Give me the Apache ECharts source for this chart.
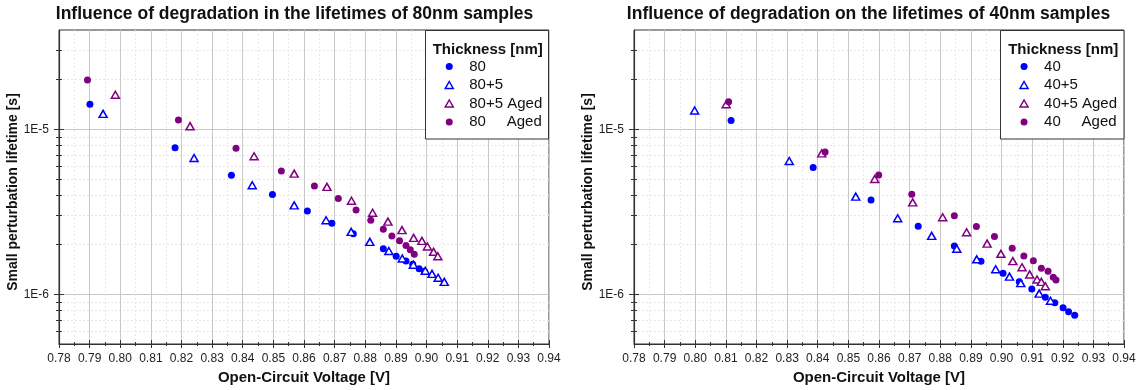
<!DOCTYPE html>
<html>
<head>
<meta charset="utf-8">
<script src="https://cdn.jsdelivr.net/npm/echarts@6/dist/echarts.min.js"></script>
<style>html,body{margin:0;padding:0;background:#fff}#c{width:1141px;height:390px}</style>
</head>
<body>
<div id="c"></div>
<script>
// ---- data (Voc [V], lifetime [s]) ----
const v80 = [0.7901,0.8179,0.8363,0.8497,0.8611,0.8691,0.8761,0.8859,0.8901,0.8933,0.8955,0.8976,0.8993];
const t80 = [1.42e-5,7.74e-6,5.27e-6,4.03e-6,3.20e-6,2.70e-6,2.33e-6,1.89e-6,1.70e-6,1.59e-6,1.52e-6,1.43e-6,1.38e-6];
const v80p5 = [0.7944,0.8241,0.8431,0.8568,0.8672,0.8754,0.8815,0.8877,0.8921,0.8957,0.8996,0.9018,0.9038,0.9058];
const t80p5 = [1.24e-5,6.70e-6,4.58e-6,3.46e-6,2.81e-6,2.39e-6,2.08e-6,1.83e-6,1.65e-6,1.51e-6,1.39e-6,1.33e-6,1.26e-6,1.19e-6];
const v80p5Aged = [0.7984,0.8228,0.8437,0.8568,0.8675,0.8755,0.8824,0.8874,0.8920,0.8958,0.8985,0.9003,0.9023,0.9037];
const t80p5Aged = [1.62e-5,1.045e-5,6.87e-6,5.39e-6,4.48e-6,3.69e-6,3.12e-6,2.76e-6,2.45e-6,2.20e-6,2.11e-6,1.95e-6,1.81e-6,1.70e-6];
const v80Aged = [0.7893,0.8190,0.8378,0.8526,0.8634,0.8712,0.8770,0.8818,0.8859,0.8887,0.8912,0.8933,0.8947,0.8960];
const t80Aged = [1.99e-5,1.14e-5,7.69e-6,5.60e-6,4.54e-6,3.81e-6,3.24e-6,2.81e-6,2.48e-6,2.26e-6,2.11e-6,1.98e-6,1.86e-6,1.75e-6];

const v40 = [0.8117,0.8385,0.8574,0.8728,0.8846,0.8933,0.9005,0.9058,0.9099,0.9143,0.9174,0.9201,0.9219,0.9239];
const t40 = [1.13e-5,5.88e-6,3.73e-6,2.59e-6,1.96e-6,1.585e-6,1.34e-6,1.19e-6,1.076e-6,9.6e-7,8.9e-7,8.3e-7,7.85e-7,7.46e-7];
const v40p5 = [0.7998,0.8307,0.8524,0.8661,0.8772,0.8854,0.8919,0.8981,0.9026,0.9063,0.9123,0.9160];
const t40p5 = [1.30e-5,6.43e-6,3.91e-6,2.89e-6,2.26e-6,1.89e-6,1.63e-6,1.42e-6,1.28e-6,1.17e-6,1.01e-6,9.15e-7];
const v40p5Aged = [0.8101,0.8413,0.8586,0.8710,0.8808,0.8886,0.8953,0.8998,0.9037,0.9067,0.9092,0.9116,0.9130,0.9143];
const t40p5Aged = [1.42e-5,7.15e-6,5.00e-6,3.61e-6,2.93e-6,2.38e-6,2.03e-6,1.76e-6,1.59e-6,1.46e-6,1.32e-6,1.23e-6,1.19e-6,1.12e-6];
const v40Aged = [0.8109,0.8424,0.8599,0.8707,0.8846,0.8918,0.8977,0.9035,0.9073,0.9104,0.9130,0.9152,0.9169,0.9178];
const t40Aged = [1.47e-5,7.29e-6,5.28e-6,4.04e-6,2.99e-6,2.58e-6,2.24e-6,1.90e-6,1.71e-6,1.60e-6,1.44e-6,1.38e-6,1.27e-6,1.22e-6];

// ---- axes / labels ----
const xMin = 0.78, xMax = 0.94, xStep = 0.01;
const yMin = 5e-7, yMax = 4e-5;
const yMajor = [1e-6, 1e-5];
const yMinor = [6e-7,7e-7,8e-7,9e-7,2e-6,3e-6,4e-6,5e-6,6e-6,7e-6,8e-6,9e-6,2e-5,3e-5];
const titles = ['Influence of degradation in the lifetimes of 80nm samples',
                'Influence of degradation on the lifetimes of 40nm samples'];
const legendTitle = 'Thickness [nm]';
const xName = 'Open-Circuit Voltage [V]';
const yName = 'Small perturbation lifetime [s]';
const names80 = ['80', '80+5', '80+5 Aged', '80     Aged'];
const names40 = ['40', '40+5', '40+5 Aged', '40     Aged'];

const FONT = '"Liberation Sans", Arial, Helvetica, sans-serif';
const BLUE = '#0000ff', PURPLE = '#800080', AXC = '#333333';
const grids = [
  {left: 59, top: 30, width: 490, height: 314},
  {left: 634, top: 30, width: 490, height: 314}
];

const zip = (a, b) => a.map((v, i) => [v, b[i]]);
const fmtY = v => {
  const e = Math.round(Math.log10(v));
  return Math.abs(v - Math.pow(10, e)) / v < 1e-6 ? '1E' + e : '';
};

const xAxes = [], yAxes = [];
grids.forEach((g, gi) => {
  xAxes.push({
    type: 'value', gridIndex: gi, min: xMin, max: xMax, interval: xStep, position: 'bottom', z: 3,
    axisLine: {onZero: false, lineStyle: {color: AXC, width: 1.2}},
    axisTick: {length: 4, lineStyle: {color: AXC}},
    minorTick: {show: true, splitNumber: 2, length: 2, lineStyle: {color: AXC}},
    axisLabel: {fontSize: 12, color: '#222', margin: 9, fontFamily: FONT, formatter: v => v.toFixed(2)},
    splitLine: {show: true, lineStyle: {color: '#c8c8c8', width: 1}},
    minorSplitLine: {show: true, lineStyle: {color: '#e8e8e8', width: 1, type: [2, 2]}},
    name: xName, nameLocation: 'middle', nameGap: 26,
    nameTextStyle: {fontSize: 15, fontWeight: 'bold', color: '#111', fontFamily: FONT}
  });
  xAxes.push({
    type: 'value', gridIndex: gi, min: xMin, max: xMax, interval: xStep, position: 'bottom', z: 3,
    axisLine: {show: false, onZero: false},
    axisTick: {inside: true, length: 4, lineStyle: {color: AXC}},
    minorTick: {show: true, splitNumber: 2, length: 2, lineStyle: {color: AXC}},
    axisLabel: {show: false}, splitLine: {show: false}, minorSplitLine: {show: false}
  });
  const base = {type: 'log', logBase: 10, gridIndex: gi, min: yMin, max: yMax, position: 'left',
    axisLine: {show: false, onZero: false}, axisLabel: {show: false}, splitLine: {show: false}};
  yAxes.push(Object.assign({}, base, {
    z: 3,
    axisLine: {show: true, onZero: false, lineStyle: {color: AXC, width: 1.2}},
    axisTick: {show: true, customValues: yMajor, length: 5, lineStyle: {color: AXC}},
    axisLabel: {show: true, customValues: yMajor, formatter: fmtY, fontSize: 12, color: '#222', margin: 10, fontFamily: FONT},
    name: yName, nameLocation: 'middle', nameGap: 33,
    nameTextStyle: {fontSize: 14, fontWeight: 'bold', color: '#111', fontFamily: FONT, padding: [0, 10, 0, 0]}
  }));
  yAxes.push(Object.assign({}, base, {z: 3, axisTick: {show: true, inside: true, customValues: yMajor, length: 5, lineStyle: {color: AXC}}}));
  yAxes.push(Object.assign({}, base, {z: 3, axisTick: {show: true, customValues: yMinor, length: 3, lineStyle: {color: AXC}}}));
  yAxes.push(Object.assign({}, base, {z: 3, axisTick: {show: true, inside: true, customValues: yMinor, length: 3, lineStyle: {color: AXC}}}));
  yAxes.push(Object.assign({}, base, {z: 1, axisTick: {show: true, inside: true, customValues: yMajor, length: g.width, lineStyle: {color: '#c8c8c8', width: 1}}}));
  yAxes.push(Object.assign({}, base, {z: 1, axisTick: {show: true, inside: true, customValues: yMinor, length: g.width, lineStyle: {color: '#e8e8e8', width: 1, type: [2, 2]}}}));
});

const circle = (name, color, v, t, gi) => ({
  type: 'scatter', name, xAxisIndex: gi * 2, yAxisIndex: gi * 6, data: zip(v, t),
  symbol: 'circle', symbolSize: 7, itemStyle: {color, borderWidth: 0, opacity: 1}, z: 5
});
const tri = (name, color, v, t, gi) => ({
  type: 'scatter', name, xAxisIndex: gi * 2, yAxisIndex: gi * 6, data: zip(v, t),
  symbol: 'triangle', symbolSize: [8, 7], itemStyle: {color: '#ffffff', borderColor: color, borderWidth: 1.5, opacity: 1}, z: 5
});

const series = [
  circle(names80[0], BLUE, v80, t80, 0),
  tri(names80[1], BLUE, v80p5, t80p5, 0),
  tri(names80[2], PURPLE, v80p5Aged, t80p5Aged, 0),
  circle(names80[3], PURPLE, v80Aged, t80Aged, 0),
  circle(names40[0], BLUE, v40, t40, 1),
  tri(names40[1], BLUE, v40p5, t40p5, 1),
  tri(names40[2], PURPLE, v40p5Aged, t40p5Aged, 1),
  circle(names40[3], PURPLE, v40Aged, t40Aged, 1)
];

const legendBoxes = [
  {x: 425.5, y: 30.5, w: 123, h: 108.5, titleX: 432.7, legLeft: 444.5, names: names80},
  {x: 1000.5, y: 30.5, w: 123.5, h: 108.5, titleX: 1008.2, legLeft: 1019.3, names: names40}
];

const graphic = [];
legendBoxes.forEach(b => {
  graphic.push({type: 'rect', z: 20, shape: {x: b.x, y: b.y, width: b.w, height: b.h},
    style: {fill: '#ffffff', stroke: AXC, lineWidth: 1}});
  graphic.push({type: 'text', z: 21, style: {text: legendTitle, x: b.titleX, y: 50, verticalAlign: 'middle',
    font: 'bold 15px ' + FONT, fill: '#111'}});
});

const legends = legendBoxes.map((b, i) => ({
  orient: 'vertical', left: b.legLeft, top: 59, padding: 0, itemWidth: 8, itemHeight: 7, itemGap: 3.5,
  selectedMode: false, z: 22, symbolKeepAspect: true,
  data: b.names.map((n, k) => (k === 1 || k === 2)
    ? {name: n, icon: 'triangle', itemStyle: {color: '#ffffff', borderColor: k === 1 ? BLUE : PURPLE, borderWidth: 1.5}}
    : {name: n, icon: 'circle', itemStyle: {color: k === 0 ? BLUE : PURPLE, borderWidth: 0}}),
  textStyle: {fontSize: 15, color: '#111', fontFamily: FONT, padding: [0, 0, 0, 11]}
}));

const option = {
  animation: false,
  backgroundColor: '#ffffff',
  textStyle: {fontFamily: FONT},
  title: [
    {text: titles[0], left: 294.5, top: 5, textAlign: 'center', padding: 0,
     textStyle: {fontSize: 17.5, fontWeight: 'bold', color: '#111', fontFamily: FONT}},
    {text: titles[1], left: 868.5, top: 5, textAlign: 'center', padding: 0,
     textStyle: {fontSize: 17.5, fontWeight: 'bold', color: '#111', fontFamily: FONT}}
  ],
  grid: grids.map(g => Object.assign({show: true, borderColor: AXC, borderWidth: 1, backgroundColor: 'transparent', containLabel: false}, g)),
  xAxis: xAxes,
  yAxis: yAxes,
  legend: legends,
  graphic: graphic,
  series: series
};

const chart = echarts.init(document.getElementById('c'), null, {renderer: 'canvas'});
chart.setOption(option);
</script>
</body>
</html>
